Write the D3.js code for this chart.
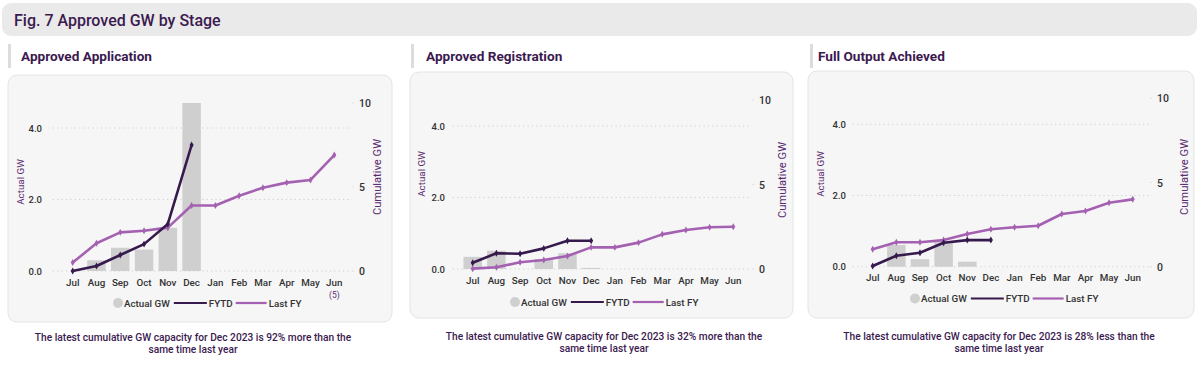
<!DOCTYPE html>
<html><head><meta charset="utf-8">
<script src="https://cdn.jsdelivr.net/npm/d3@7"></script>
<style>
html,body{margin:0;padding:0;background:#fff;}
svg{display:block;font-family:Roboto,"Noto Sans",sans-serif;}
</style></head>
<body>
<svg id="chart" width="1200" height="365"></svg>
<script>
// ---------- data ----------
const months = ["Jul","Aug","Sep","Oct","Nov","Dec","Jan","Feb","Mar","Apr","May","Jun"];
const leftTicks = [0, 2, 4];
const rightTicks = [0, 5, 10];

const appActual = [0, 0.3, 0.65, 0.6, 1.21, 4.7];
const appFYTD   = [0, 0.3, 0.95, 1.6, 2.8, 7.5];
const appLastFY = [0.5, 1.65, 2.3, 2.4, 2.58, 3.9, 3.9, 4.48, 4.96, 5.26, 5.42, 6.9];

const regActual = [0.34, 0.51, 0, 0.28, 0.44, 0.03];
const regFYTD   = [0.37, 0.93, 0.9, 1.22, 1.67, 1.67];
const regLastFY = [0.02, 0.1, 0.4, 0.53, 0.77, 1.28, 1.28, 1.56, 2.05, 2.31, 2.47, 2.5];

const outActual = [0, 0.61, 0.21, 0.7, 0.14, 0];
const outFYTD   = [0.04, 0.65, 0.83, 1.42, 1.58, 1.58];
const outLastFY = [1.03, 1.45, 1.45, 1.58, 1.94, 2.22, 2.34, 2.43, 3.13, 3.31, 3.8, 4.0];

const titleText = "Fig. 7 Approved GW by Stage";
const panelTitles = ["Approved Application", "Approved Registration", "Full Output Achieved"];
const footnotes = [
  ["The latest cumulative GW capacity for Dec 2023 is 92% more than the", "same time last year"],
  ["The latest cumulative GW capacity for Dec 2023 is 32% more than the", "same time last year"],
  ["The latest cumulative GW capacity for Dec 2023 is 28% less than the", "same time last year"]
];
const legendLabels = ["Actual GW", "FYTD", "Last FY"];

// ---------- style ----------
const C = {
  title: "#3b1a50", sub: "#3b1a50", bar: "#cfcfcf", fytd: "#361a4d", last: "#a461b1",
  axisLab: "#5a2a70", tick: "#333", grid: "#cfcfcf", card: "#f6f6f6", cardStroke: "#e4e4e4"
};

const svg = d3.select("#chart");

// Title bar
svg.append("rect").attr("x",2).attr("y",3).attr("width",1195).attr("height",33).attr("rx",9)
  .attr("fill","#eaeaea");
svg.append("text").attr("x",14).attr("y",26).attr("fill",C.title)
  .attr("font-size",16).attr("font-weight",500).text(titleText);

const panels = [
  {actual: appActual, fytd: appFYTD, last: appLastFY, card:[8,75,384,247], subX:21, barX:8,
   xr:[72.7,334.3], y0:271, y4:128, y10:103, tickL:42, tickR:359, alX:21, alY:182, clX:377, clY:177,
   monthY:286, legY:303, legCx:118, noteX:193, noteY:337, extra:"(5)"},
  {actual: regActual, fytd: regFYTD, last: regLastFY, card:[410,72,383,246], subX:426, barX:411,
   xr:[472.7,733.3], y0:269, y4:126, y10:100, tickL:445, tickR:759, alX:422, alY:174, clX:782, clY:180,
   monthY:284, legY:302, legCx:515, noteX:604, noteY:336},
  {actual: outActual, fytd: outFYTD, last: outLastFY, card:[808,71,386,247], subX:818, barX:810,
   xr:[872.7,1132.7], y0:266.7, y4:124.3, y10:98.3, tickL:846, tickR:1157, alX:821, alY:174, clX:1184, clY:177,
   monthY:281, legY:298.5, legCx:915, noteX:999, noteY:336}
];

panels.forEach((p, i) => {
  const g = svg.append("g");
  // subtitle
  g.append("rect").attr("x",p.barX).attr("y",44).attr("width",3).attr("height",24).attr("fill","#dcdcdc");
  g.append("text").attr("x",p.subX).attr("y",60.5).attr("fill",C.sub)
    .attr("font-size",13.6).attr("font-weight",700).text(panelTitles[i]);
  // card
  g.append("rect").attr("x",p.card[0]).attr("y",p.card[1]).attr("width",p.card[2]).attr("height",p.card[3])
    .attr("rx",9).attr("fill",C.card).attr("stroke",C.cardStroke).attr("stroke-width",1);

  const x = d3.scalePoint().domain(months).range(p.xr);
  const yL = d3.scaleLinear().domain([0,4]).range([p.y0, p.y4]);
  const yR = d3.scaleLinear().domain([0,10]).range([p.y0, p.y10]);
  const gx0 = p.xr[0] - 20, gx1 = p.xr[1] + 18;

  // gridlines (left axis)
  g.selectAll(".grid").data(leftTicks).join("line")
    .attr("x1",gx0).attr("x2",gx1).attr("y1",d=>yL(d)).attr("y2",d=>yL(d))
    .attr("stroke",C.grid).attr("stroke-width",1).attr("stroke-dasharray","1.2,3.2");
  // tiny right-tick dots
  g.selectAll(".rdot").data(rightTicks).join("circle")
    .attr("cx",p.tickR-6).attr("cy",d=>yR(d)).attr("r",0.7).attr("fill","#d8d8d8");

  // left ticks
  g.selectAll(".lt").data(leftTicks).join("text")
    .attr("x",p.tickL).attr("y",d=>yL(d)+3.5).attr("text-anchor","end")
    .attr("font-size",9.5).attr("font-weight",500).attr("fill",C.tick).text(d=>d3.format(".1f")(d));
  // right ticks
  g.selectAll(".rt").data(rightTicks).join("text")
    .attr("x",p.tickR).attr("y",d=>yR(d)+4).attr("text-anchor","start")
    .attr("font-size",10.5).attr("font-weight",500).attr("fill",C.tick).text(d=>d);
  // axis labels
  g.append("text").attr("transform",`translate(${p.alX},${p.alY}) rotate(-90)`)
    .attr("text-anchor","middle").attr("dy","0.35em").attr("font-size",9.8).attr("fill",C.axisLab).text("Actual GW");
  g.append("text").attr("transform",`translate(${p.clX},${p.clY}) rotate(-90)`)
    .attr("text-anchor","middle").attr("dy","0.35em").attr("font-size",11.2).attr("fill",C.axisLab).text("Cumulative GW");

  // month labels
  g.selectAll(".mt").data(months).join("text")
    .attr("x",d=>x(d)).attr("y",p.monthY).attr("text-anchor","middle")
    .attr("font-size",9.8).attr("font-weight",500).attr("fill",C.tick).text(d=>d);
  if (p.extra) {
    g.append("text").attr("x",x("Jun")).attr("y",p.monthY+12).attr("text-anchor","middle")
      .attr("font-size",8.5).attr("fill",C.axisLab).text(p.extra);
  }

  // bars
  const bw = 18.5;
  g.selectAll(".bar").data(p.actual.map((v,k)=>({m:months[k], v}))).join("rect")
    .attr("x",d=>x(d.m)-bw/2).attr("width",bw)
    .attr("y",d=>yL(d.v)).attr("height",d=>p.y0 - yL(d.v))
    .attr("fill",C.bar);

  const diamond = d3.symbol().type(d3.symbolDiamond).size(14);
  const drawLine = (vals, col) => {
    const pts = vals.map((v,k)=>[x(months[k]), yR(v)]);
    g.append("path").attr("d", d3.line()(pts)).attr("fill","none")
      .attr("stroke",col).attr("stroke-width",2.6).attr("stroke-linejoin","round");
    g.selectAll(null).data(pts).join("path")
      .attr("transform",d=>`translate(${d[0]},${d[1]})`).attr("d",diamond).attr("fill",col);
  };
  drawLine(p.last, C.last);
  drawLine(p.fytd, C.fytd);

  // legend
  const lg = g.append("g").attr("transform",`translate(0,${p.legY})`);
  let cx = p.legCx;
  lg.append("circle").attr("cx",cx).attr("cy",0).attr("r",5).attr("fill",C.bar);
  const t1 = lg.append("text").attr("x",cx+6).attr("y",3.5).attr("font-size",9.8).attr("font-weight",500).attr("fill",C.tick).text(legendLabels[0]);
  let xx = cx + 6 + t1.node().getComputedTextLength() + 4;
  lg.append("line").attr("x1",xx).attr("x2",xx+33).attr("y1",0).attr("y2",0).attr("stroke",C.fytd).attr("stroke-width",2.2);
  xx += 35;
  const t2 = lg.append("text").attr("x",xx).attr("y",3.5).attr("font-size",9.8).attr("font-weight",500).attr("fill",C.tick).text(legendLabels[1]);
  xx += t2.node().getComputedTextLength() + 3;
  lg.append("line").attr("x1",xx).attr("x2",xx+31).attr("y1",0).attr("y2",0).attr("stroke",C.last).attr("stroke-width",2.2);
  xx += 33;
  lg.append("text").attr("x",xx).attr("y",3.5).attr("font-size",9.8).attr("font-weight",500).attr("fill",C.tick).text(legendLabels[2]);

  // footnote
  footnotes[i].forEach((line, k) => {
    svg.append("text").attr("x",p.noteX).attr("y",p.noteY + 3.5 + k*12.5).attr("text-anchor","middle")
      .attr("font-size",10.2).attr("font-weight",500).attr("fill",C.title).text(line);
  });
});
</script>
</body></html>
